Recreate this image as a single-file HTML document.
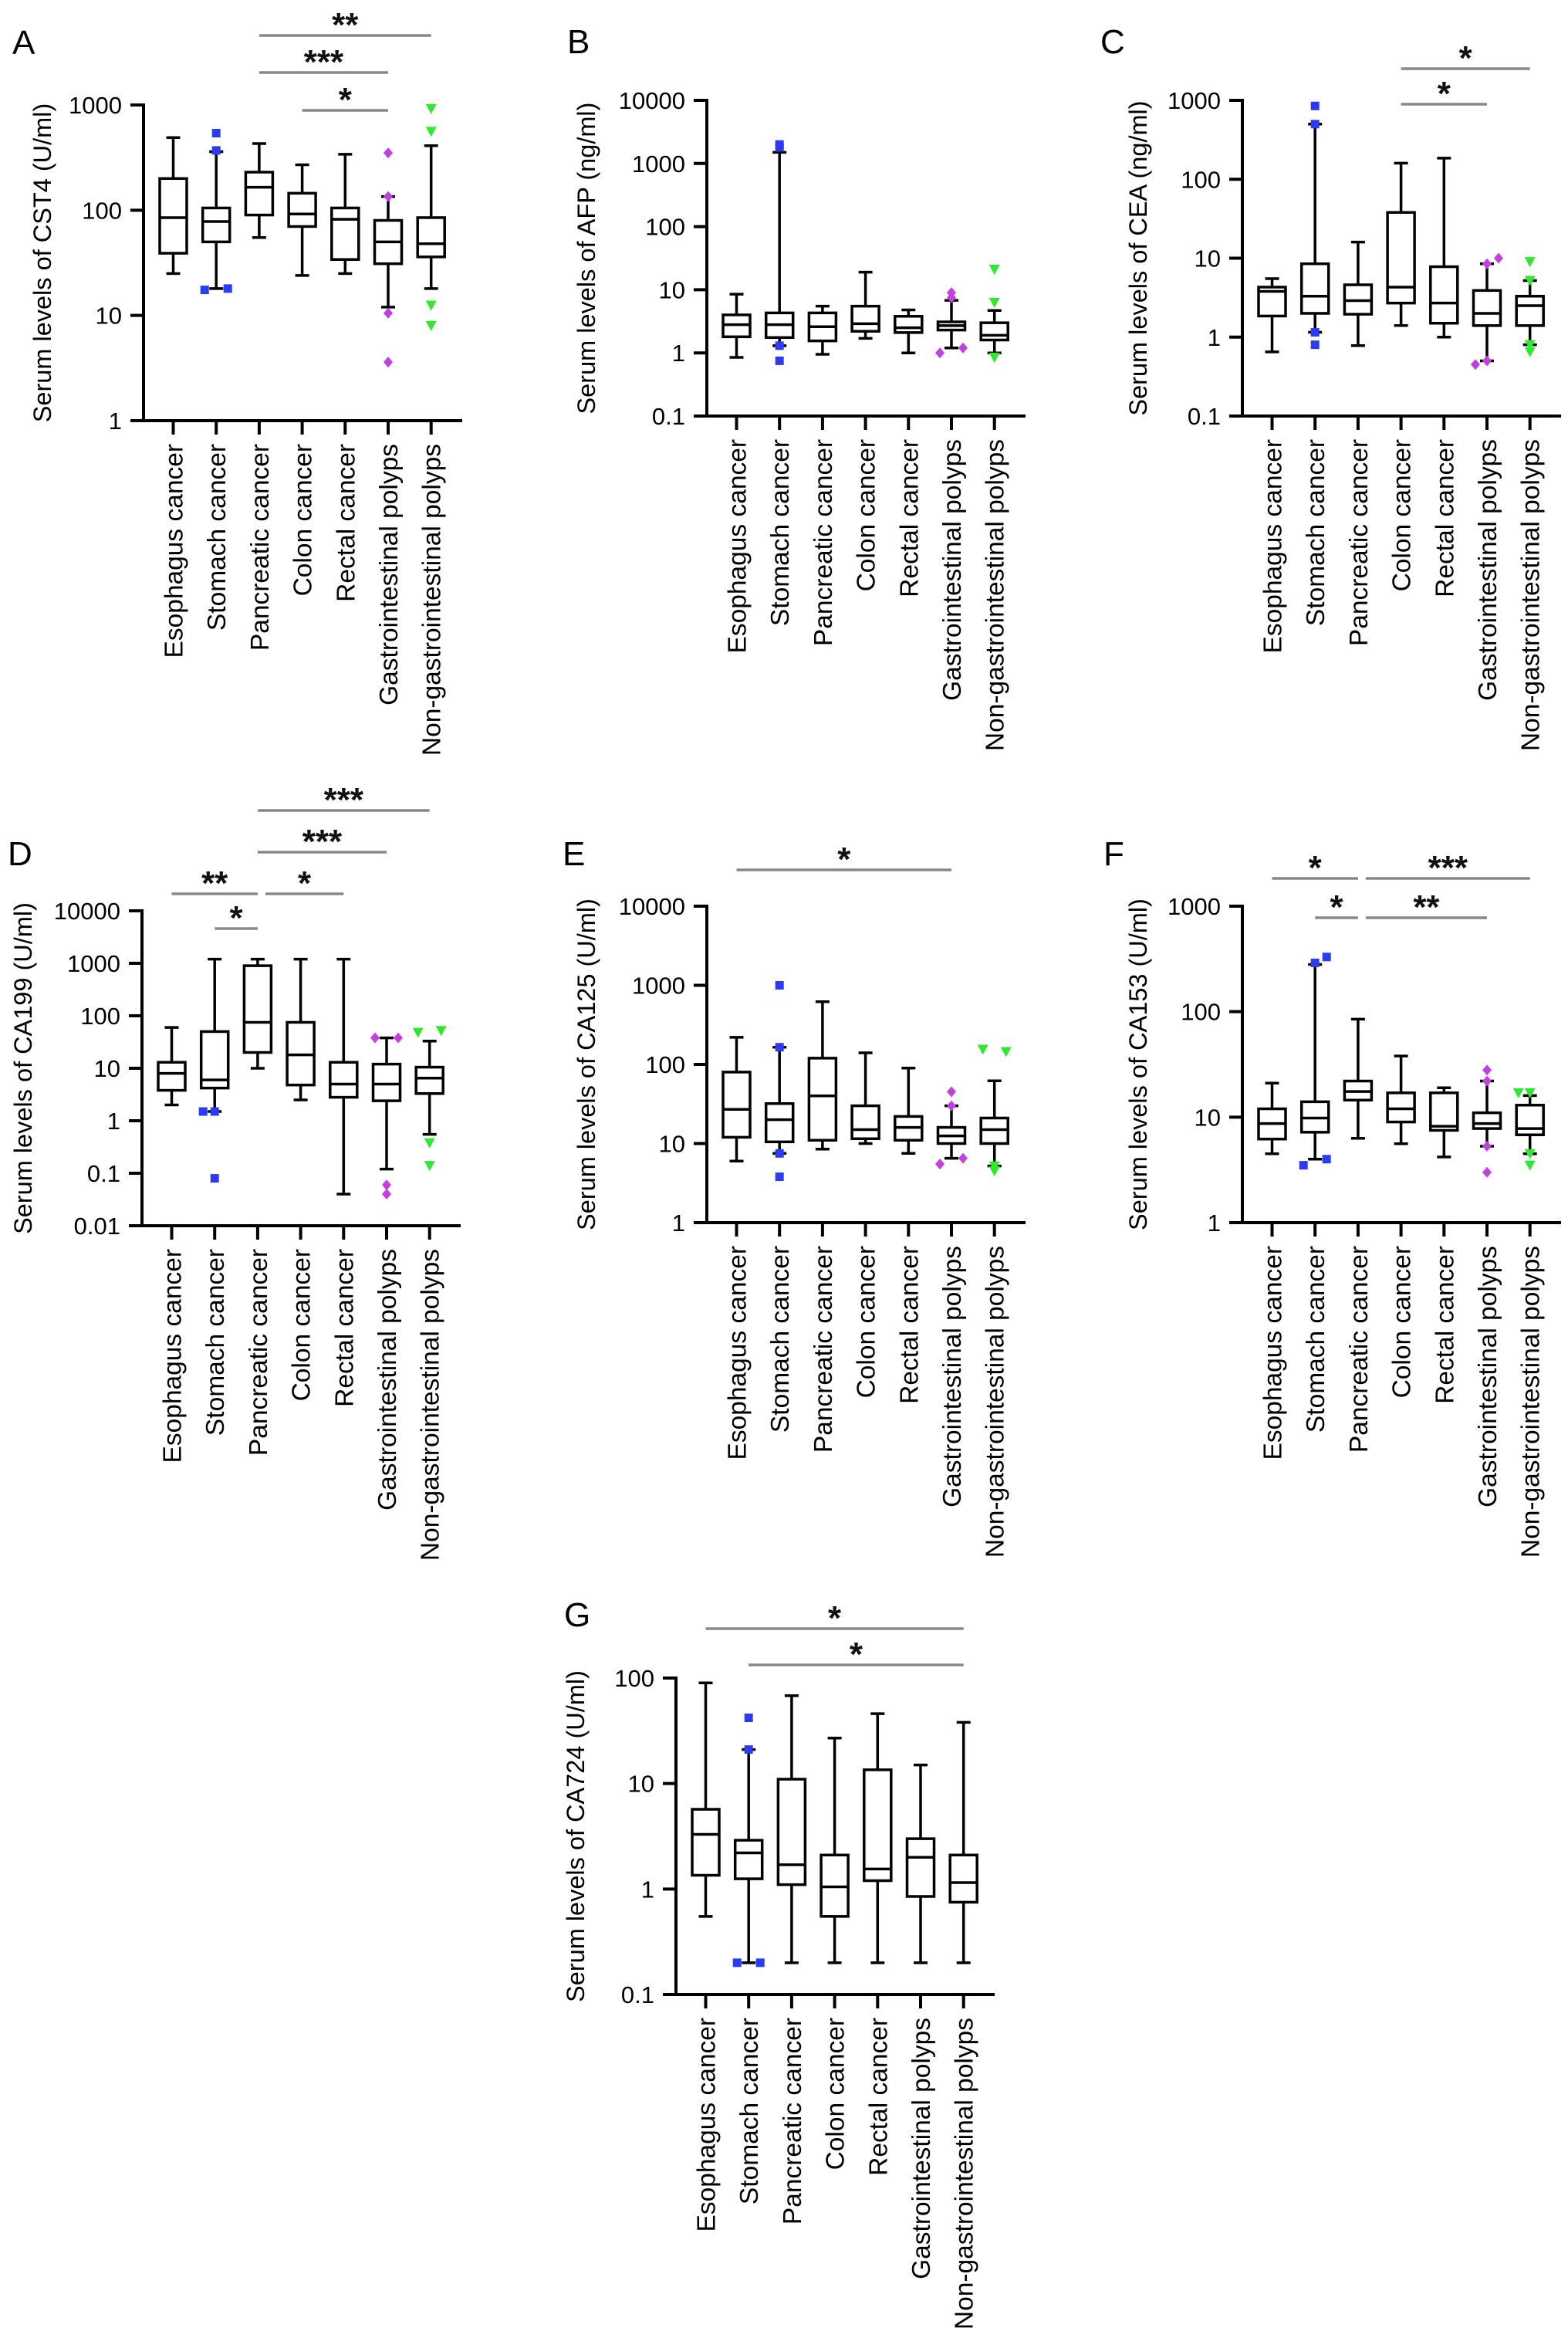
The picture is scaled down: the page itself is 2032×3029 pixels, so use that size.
<!DOCTYPE html>
<html><head><meta charset="utf-8"><style>
html,body{margin:0;padding:0;background:#fff;}
svg{display:block;font-family:"Liberation Sans",Arial,sans-serif;}
</style></head><body>
<svg id="fig" width="2032" height="3029" viewBox="0 0 2032 3029" xmlns="http://www.w3.org/2000/svg"></svg>
<script>
// ---------- shared categories ----------
const categories = ["Esophagus cancer","Stomach cancer","Pancreatic cancer","Colon cancer","Rectal cancer","Gastrointestinal polyps","Non-gastrointestinal polyps"];

// ---------- Panel A: CST4 ----------
const aMin = [25,18,55,24,25,12,18];
const aQ1  = [39,50,90,70,34,31,36];
const aMed = [85,78,165,92,82,50,48];
const aQ3  = [200,105,230,145,105,80,85];
const aMax = [490,360,430,270,340,135,410];
const aOutVal = [540,370,17.5,18, 350,135,10.5,3.6, 920,560,12.5,8];
const aOutCat = [1,1,1,1, 5,5,5,5, 6,6,6,6];
const aOutSide= [0,0,-1,1, 0,0,0,0, 0,0,0,0];
const aTicks = [1,10,100,1000];
const aTickLabels = ["1","10","100","1000"];
const aSigFrom=[2,2,3], aSigTo=[6,5,5], aSigLabel=["**","***","*"];

// ---------- Panel B: AFP ----------
const bMin = [0.85,1.3,0.95,1.7,1.0,1.2,1.0];
const bQ1  = [1.8,1.75,1.55,2.2,2.1,2.3,1.6];
const bMed = [2.8,2.8,2.6,2.9,2.5,2.7,1.9];
const bQ3  = [4.0,4.3,4.3,5.5,3.8,3.1,3.0];
const bMax = [8.5,1500,5.5,19,4.8,6.8,4.7];
const bOutVal = [2000,1800,1.3,0.75, 9,7.5,1.0,1.2, 21,6.3,0.85];
const bOutCat = [1,1,1,1, 5,5,5,5, 6,6,6];
const bOutSide= [0,0,0,0, 0,0,-1,1, 0,0,0];
const bTicks = [0.1,1,10,100,1000,10000];
const bTickLabels = ["0.1","1","10","100","1000","10000"];
const bSigFrom=[], bSigTo=[], bSigLabel=[];

// ---------- Panel C: CEA ----------
const cMin = [0.65,1.15,0.78,1.4,1.0,0.5,0.8];
const cQ1  = [1.85,2.0,1.95,2.7,1.5,1.4,1.4];
const cMed = [3.8,3.3,2.9,4.3,2.7,2.0,2.5];
const cQ3  = [4.3,8.5,4.6,38,7.8,3.9,3.3];
const cMax = [5.5,500,16,160,185,8.5,5.2];
const cOutVal = [850,500,1.15,0.8, 8.5,10,0.45,0.5, 9,5.2,0.8,0.65];
const cOutCat = [1,1,1,1, 5,5,5,5, 6,6,6,6];
const cOutSide= [0,0,0,0, 0,1,-1,0, 0,0,0,0];
const cTicks = [0.1,1,10,100,1000];
const cTickLabels = ["0.1","1","10","100","1000"];
const cSigFrom=[3,3], cSigTo=[6,5], cSigLabel=["*","*"];

// ---------- Panel D: CA199 ----------
const dMin = [2,1.5,10,2.5,0.04,0.12,0.55];
const dQ1  = [3.8,4.2,20,4.8,2.8,2.4,3.3];
const dMed = [8,6,75,18,5,5,6.5];
const dQ3  = [13,50,900,75,13,12,10.5];
const dMax = [60,1200,1200,1200,1200,38,33];
const dOutVal = [1.5,1.5,0.08, 38,38,0.06,0.04, 48,52,0.38,0.14];
const dOutCat = [1,1,1, 5,5,5,5, 6,6,6,6];
const dOutSide= [-1,0,0, -1,1,0,0, -1,1,0,0];
const dTicks = [0.01,0.1,1,10,100,1000,10000];
const dTickLabels = ["0.01","0.1","1","10","100","1000","10000"];
const dSigFrom=[2,2,0,2,1], dSigTo=[6,5,2,4,2], dSigLabel=["***","***","**","*","*"];

// ---------- Panel E: CA125 ----------
const eMin = [6,7.5,8.5,10,7.5,6.5,5.2];
const eQ1  = [12,10.5,11,11.5,11,10,10];
const eMed = [27,20,40,15,16,12.5,15];
const eQ3  = [80,32,120,30,22,16,21];
const eMax = [220,165,620,140,90,30,62];
const eOutVal = [1000,165,7.5,3.8, 45,30,5.5,6.5, 155,145,5.2,4.5];
const eOutCat = [1,1,1,1, 5,5,5,5, 6,6,6,6];
const eOutSide= [0,0,0,0, 0,0,-1,1, -1,1,0,0];
const eTicks = [1,10,100,1000,10000];
const eTickLabels = ["1","10","100","1000","10000"];
const eSigFrom=[0], eSigTo=[5], eSigLabel=["*"];

// ---------- Panel F: CA153 ----------
const fMin = [4.5,4,6.3,5.6,4.2,5.3,4.5];
const fQ1  = [6.2,7.2,14.5,9,7.5,7.8,6.8];
const fMed = [8.7,9.8,17.5,12,8.2,8.7,7.8];
const fQ3  = [12,14,22,17,17,11,13];
const fMax = [21,280,85,38,19,22,16];
const fOutVal = [290,330,3.5,4, 28,22,5.3,3, 17,17,4.5,3.5];
const fOutCat = [1,1,1,1, 5,5,5,5, 6,6,6,6];
const fOutSide= [0,1,-1,1, 0,0,0,0, -1,0,0,0];
const fTicks = [1,10,100,1000];
const fTickLabels = ["1","10","100","1000"];
const fSigFrom=[0,2,1,2], fSigTo=[2,6,2,5], fSigLabel=["*","***","*","**"];

// ---------- Panel G: CA724 ----------
const gMin = [0.55,0.2,0.2,0.2,0.2,0.2,0.2];
const gQ1  = [1.35,1.25,1.1,0.55,1.2,0.85,0.75];
const gMed = [3.3,2.2,1.7,1.05,1.55,2.0,1.15];
const gQ3  = [5.7,2.9,11,2.1,13.5,3.0,2.1];
const gMax = [90,21,68,27,46,15,38];
const gOutVal = [42,21,0.2,0.2];
const gOutCat = [1,1,1,1];
const gOutSide= [0,0,-1,1];
const gTicks = [0.1,1,10,100];
const gTickLabels = ["0.1","1","10","100"];
const gSigFrom=[0,1], gSigTo=[6,6], gSigLabel=["*","*"];

// ---------- layout (not data) ----------
const panels = [
 {id:"a",letter:"A",lx:16,ly:70,ax:186,yTop:136,yBot:545,title:"Serum levels of CST4 (U/ml)",tOff:131,
  mn:aMin,q1:aQ1,md:aMed,q3:aQ3,mx:aMax,ov:aOutVal,oc:aOutCat,os:aOutSide,tk:aTicks,tl:aTickLabels,
  sf:aSigFrom,st:aSigTo,sl:aSigLabel,sy:[46,94,143],sin:[0,0,0]},
 {id:"b",letter:"B",lx:735,ly:69,ax:916,yTop:130,yBot:539,title:"Serum levels of AFP (ng/ml)",tOff:156,
  mn:bMin,q1:bQ1,md:bMed,q3:bQ3,mx:bMax,ov:bOutVal,oc:bOutCat,os:bOutSide,tk:bTicks,tl:bTickLabels,
  sf:bSigFrom,st:bSigTo,sl:bSigLabel,sy:[],sin:[]},
 {id:"c",letter:"C",lx:1426,ly:69,ax:1610,yTop:130,yBot:539,title:"Serum levels of CEA (ng/ml)",tOff:135,
  mn:cMin,q1:cQ1,md:cMed,q3:cQ3,mx:cMax,ov:cOutVal,oc:cOutCat,os:cOutSide,tk:cTicks,tl:cTickLabels,
  sf:cSigFrom,st:cSigTo,sl:cSigLabel,sy:[89,135],sin:[0,0]},
 {id:"d",letter:"D",lx:10,ly:1121,ax:184,yTop:1180,yBot:1588,title:"Serum levels of CA199 (U/ml)",tOff:154,
  mn:dMin,q1:dQ1,md:dMed,q3:dQ3,mx:dMax,ov:dOutVal,oc:dOutCat,os:dOutSide,tk:dTicks,tl:dTickLabels,
  sf:dSigFrom,st:dSigTo,sl:dSigLabel,sy:[1050,1104,1158,1158,1203],sin:[0,0,0,1,0]},
 {id:"e",letter:"E",lx:729,ly:1121,ax:916,yTop:1174,yBot:1584,title:"Serum levels of CA125 (U/ml)",tOff:156,
  mn:eMin,q1:eQ1,md:eMed,q3:eQ3,mx:eMax,ov:eOutVal,oc:eOutCat,os:eOutSide,tk:eTicks,tl:eTickLabels,
  sf:eSigFrom,st:eSigTo,sl:eSigLabel,sy:[1127],sin:[0]},
 {id:"f",letter:"F",lx:1430,ly:1121,ax:1610,yTop:1174,yBot:1584,title:"Serum levels of CA153 (U/ml)",tOff:135,
  mn:fMin,q1:fQ1,md:fMed,q3:fQ3,mx:fMax,ov:fOutVal,oc:fOutCat,os:fOutSide,tk:fTicks,tl:fTickLabels,
  sf:fSigFrom,st:fSigTo,sl:fSigLabel,sy:[1138,1138,1189,1189],sin:[0,1,0,1]},
 {id:"g",letter:"G",lx:731,ly:2107,ax:876,yTop:2174,yBot:2584,title:"Serum levels of CA724 (U/ml)",tOff:130,
  mn:gMin,q1:gQ1,md:gMed,q3:gQ3,mx:gMax,ov:gOutVal,oc:gOutCat,os:gOutSide,tk:gTicks,tl:gTickLabels,
  sf:gSigFrom,st:gSigTo,sl:gSigLabel,sy:[2110,2157],sin:[0,0]}
];

const NS="http://www.w3.org/2000/svg";
const svg=document.getElementById("fig");
function mk(tag,attrs,parent){const e=document.createElementNS(NS,tag);for(const k in attrs)e.setAttribute(k,attrs[k]);(parent||svg).appendChild(e);return e;}
const COLORS={1:"#2b3bf0",5:"#c23fe0",6:"#2fe82f"};

panels.forEach(p=>{
  const g=mk("g",{});
  
  
  const lmin=Math.log10(p.tk[0]), lmax=Math.log10(p.tk[p.tk.length-1]);
  const yS=v=>p.yBot-(Math.log10(v)-lmin)/(lmax-lmin)*(p.yBot-p.yTop);
  const xS=i=>p.ax+38.5+55.7*i;
  const xEnd=p.ax+413;
  // letter
  const L=mk("text",{x:p.lx,y:p.ly,"font-size":44,fill:"#000"},g);L.textContent=p.letter;
  
  
  // axes
  const ya=mk("line",{x1:p.ax,y1:p.yTop-2,x2:p.ax,y2:p.yBot+2,stroke:"#000","stroke-width":4},g);
  
  
  const xa=mk("line",{x1:p.ax-17,y1:p.yBot,x2:xEnd,y2:p.yBot,stroke:"#000","stroke-width":4},g);
  
  
  p.tk.forEach((t,i)=>{
    const y=yS(t);
    mk("line",{x1:p.ax-17,y1:y,x2:p.ax,y2:y,stroke:"#000","stroke-width":4},g);
    const tx=mk("text",{x:p.ax-28,y:y+11,"font-size":31,"text-anchor":"end",fill:"#000"},g);
    tx.textContent=p.tl[i];
    
    
  });
  const yc=(p.yTop+p.yBot)/2;
  const tt=mk("text",{x:p.ax-p.tOff+11,y:yc,"font-size":32.5,"text-anchor":"middle",fill:"#000",transform:`rotate(-90 ${p.ax-p.tOff+11} ${yc})`},g);
  tt.textContent=p.title;
  
  
  // categories
  categories.forEach((c,i)=>{
    const x=xS(i);
    mk("line",{x1:x,y1:p.yBot,x2:x,y2:p.yBot+18,stroke:"#000","stroke-width":4},g);
    const lx=x+12, ly=p.yBot+30;
    const t=mk("text",{x:lx,y:ly,"font-size":33.5,"text-anchor":"end",fill:"#000",transform:`rotate(-90 ${lx} ${ly})`},g);
    t.textContent=c;
    
    
    // box
    const bg=mk("g",{fill:"none",stroke:"#000","stroke-width":3.5},g);
    
    
    mk("line",{x1:x,y1:yS(p.mx[i]),x2:x,y2:yS(p.q3[i])},bg);
    mk("line",{x1:x,y1:yS(p.q1[i]),x2:x,y2:yS(p.mn[i])},bg);
    mk("line",{x1:x-9,y1:yS(p.mx[i]),x2:x+9,y2:yS(p.mx[i])},bg);
    mk("line",{x1:x-9,y1:yS(p.mn[i]),x2:x+9,y2:yS(p.mn[i])},bg);
    mk("rect",{x:x-17.5,y:yS(p.q3[i]),width:35,height:Math.max(1,yS(p.q1[i])-yS(p.q3[i]))},bg);
    mk("line",{x1:x-17.5,y1:yS(p.md[i]),x2:x+17.5,y2:yS(p.md[i])},bg);
  });
  // outliers
  p.ov.forEach((v,k)=>{
    const c=p.oc[k], x=xS(c)+p.os[k]*15, y=yS(v), col=COLORS[c];
    let m;
    if(c===1) m=mk("rect",{x:x-5.5,y:y-5.5,width:11,height:11,fill:col},g);
    else if(c===5) m=mk("polygon",{points:`${x},${y-7} ${x+6},${y} ${x},${y+7} ${x-6},${y}`,fill:col},g);
    else m=mk("polygon",{points:`${x-7},${y-6} ${x+7},${y-6} ${x},${y+7}`,fill:col},g);
    
    
  });
  // significance bars
  p.sf.forEach((f,k)=>{
    const x1=xS(f)+(p.sin[k]?10:0), x2=xS(p.st[k]), y=p.sy[k];
    const ln=mk("line",{x1:x1,y1:y,x2:x2,y2:y,stroke:"#888","stroke-width":3.5},g);
    
    
    const s=mk("text",{x:(x1+x2)/2,y:y+1,"font-size":44,"font-weight":"bold","text-anchor":"middle",fill:"#111"},g);
    s.textContent=p.sl[k];
    
    
  });
});
</script>
</body></html>
